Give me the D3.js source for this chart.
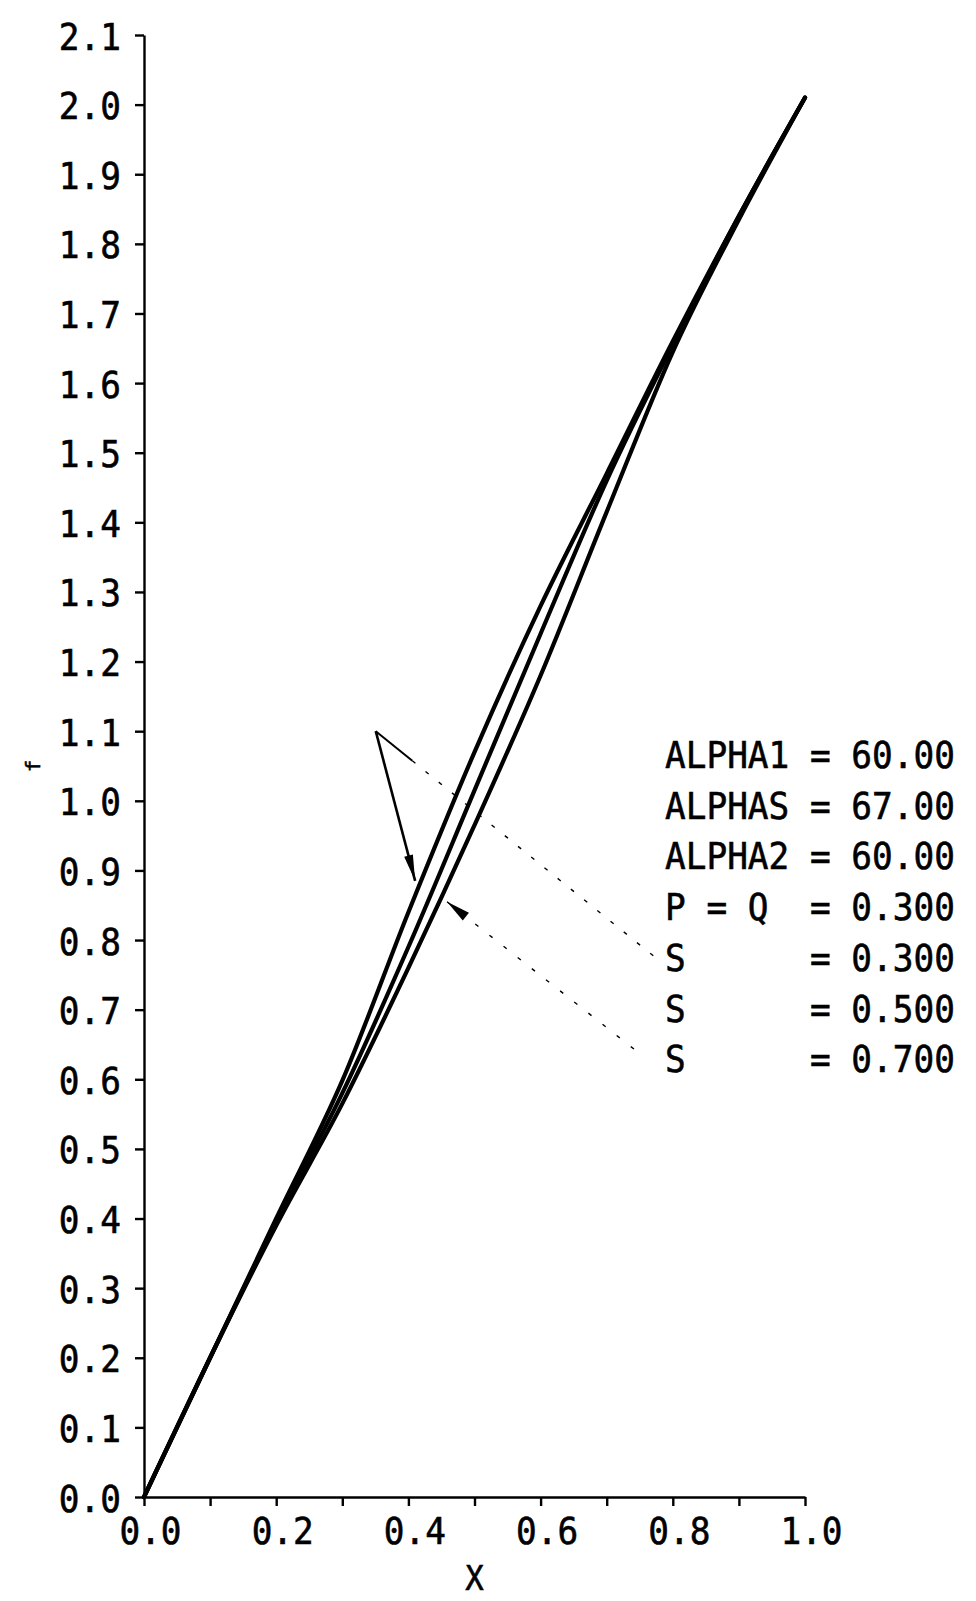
<!DOCTYPE html>
<html>
<head>
<meta charset="utf-8">
<script src="https://cdn.jsdelivr.net/npm/d3@7"></script>
<style>
  html, body { margin: 0; padding: 0; background: #fff; }
  svg { display: block; }
  text { font-family: "DejaVu Sans Mono", "Liberation Mono", monospace; fill: #000; stroke: #000; stroke-width: 0.6px; }
</style>
</head>
<body>
<svg id="chart" width="976" height="1601"></svg>
<script>
// ---------------- data ----------------
const xValues = [0, 0.1, 0.2, 0.3, 0.4, 0.5, 0.6, 0.7, 0.8, 0.9, 1.0];
const fS03 = [0, 0.200, 0.400, 0.598, 0.840, 1.070, 1.280, 1.470, 1.660, 1.840, 2.010];
const fS05 = [0, 0.200, 0.395, 0.580, 0.790, 1.015, 1.240, 1.460, 1.655, 1.840, 2.010];
const fS07 = [0, 0.200, 0.390, 0.565, 0.760, 0.965, 1.180, 1.415, 1.645, 1.835, 2.010];
const seriesNames = ["S = 0.300", "S = 0.500", "S = 0.700"];

const xTickValues = [0, 0.1, 0.2, 0.3, 0.4, 0.5, 0.6, 0.7, 0.8, 0.9, 1.0];
const xTickLabels = ["0.0", "", "0.2", "", "0.4", "", "0.6", "", "0.8", "", "1.0"];
const yTickValues = [0, 0.1, 0.2, 0.3, 0.4, 0.5, 0.6, 0.7, 0.8, 0.9, 1.0,
                     1.1, 1.2, 1.3, 1.4, 1.5, 1.6, 1.7, 1.8, 1.9, 2.0, 2.1];
const yTickLabels = ["0.0", "0.1", "0.2", "0.3", "0.4", "0.5", "0.6", "0.7", "0.8", "0.9", "1.0",
                     "1.1", "1.2", "1.3", "1.4", "1.5", "1.6", "1.7", "1.8", "1.9", "2.0", "2.1"];

const legendNames  = ["ALPHA1", "ALPHAS", "ALPHA2", "P = Q", "S", "S", "S"];
const legendValues = ["60.00", "67.00", "60.00", "0.300", "0.300", "0.500", "0.700"];

const xLabel = "X";
const yLabel = "f";

// arrow / leader anchor points in data units
const arrowApex = [0.3506, 1.10];      // apex of the V-shaped pointer
const arrowTipS03 = [0.4102, 0.885];   // arrow tip on the S = 0.300 curve
const arrowTipS07 = [0.4584, 0.855];   // arrow tip near the S = 0.700 curve

// ---------------- layout ----------------
const svg = d3.select("#chart");
const x = d3.scaleLinear().domain([0, 1.0]).range([144, 805]);
const y = d3.scaleLinear().domain([0, 2.1]).range([1497, 35]);
const SX = 0.93;           // horizontal squeeze of the plotter-like font
const FS = 37;

// ---------------- axes ----------------
const yAxis = d3.axisLeft(y)
  .tickValues(yTickValues)
  .tickFormat((d, i) => yTickLabels[i])
  .tickSize(9).tickSizeOuter(0);
const gy = svg.append("g").attr("transform", `translate(${x(0)},0)`).call(yAxis);
gy.select(".domain").attr("stroke", "#000").attr("stroke-width", 2.4);
gy.selectAll(".tick line").attr("stroke", "#000").attr("stroke-width", 2.4);
gy.selectAll(".tick text")
  .attr("font-size", FS).attr("font-family", "DejaVu Sans Mono")
  .attr("x", -23 / SX).attr("dy", 0).attr("y", 14)
  .attr("transform", `scale(${SX},1)`)
  .attr("text-anchor", "end");

const xAxis = d3.axisBottom(x)
  .tickValues(xTickValues)
  .tickFormat((d, i) => xTickLabels[i])
  .tickSize(9).tickSizeOuter(0);
const gx = svg.append("g").attr("transform", `translate(0,${y(0)})`).call(xAxis);
gx.select(".domain").attr("stroke", "#000").attr("stroke-width", 2.4);
gx.selectAll(".tick line").attr("stroke", "#000").attr("stroke-width", 2.4);
gx.selectAll(".tick text")
  .attr("font-size", FS).attr("font-family", "DejaVu Sans Mono")
  .attr("x", 6 / SX).attr("dy", 0).attr("y", 47)
  .attr("transform", `scale(${SX},1)`)
  .attr("text-anchor", "middle");

// axis titles
svg.append("text")
  .attr("transform", `translate(${x(0.5)},1590) scale(${SX},1)`)
  .attr("text-anchor", "middle").attr("font-size", 33).text(xLabel);
svg.append("text")
  .attr("transform", `translate(40,766) rotate(-90)`)
  .attr("text-anchor", "middle").attr("font-size", 20).text(yLabel);

// ---------------- curves ----------------
const line = d3.line()
  .x(d => x(d[0])).y(d => y(d[1]))
  .curve(d3.curveMonotoneX);
[fS03, fS05, fS07].forEach((vals, k) => {
  svg.append("path")
    .datum(xValues.map((xv, i) => [xv, vals[i]]))
    .attr("class", "series")
    .attr("data-name", seriesNames[k])
    .attr("fill", "none").attr("stroke", "#000")
    .attr("stroke-width", 4.2).attr("stroke-linejoin", "round").attr("stroke-linecap", "round")
    .attr("d", line);
});

// ---------------- legend ----------------
const legX = 665, adv = 20.7, row0 = 768, rowH = 50.7;
const leg = svg.append("g");
legendNames.forEach((nm, i) => {
  const yy = row0 + i * rowH;
  leg.append("text").attr("transform", `translate(${legX},${yy}) scale(${SX},1)`)
    .attr("font-size", FS).text(nm);
  leg.append("text").attr("transform", `translate(${legX + 7 * adv},${yy}) scale(${SX},1)`)
    .attr("font-size", FS).text("=");
  leg.append("text").attr("transform", `translate(${legX + 9 * adv},${yy}) scale(${SX},1)`)
    .attr("font-size", FS).text(legendValues[i]);
});

// ---------------- pointers ----------------
function arrowHead(tip, from, len, wid) {
  const tx = x(tip[0]), ty = y(tip[1]);
  const fx = from[0], fy = from[1];
  const dx = tx - fx, dy = ty - fy, L = Math.hypot(dx, dy);
  const ux = dx / L, uy = dy / L;
  const bx = tx - ux * len, by = ty - uy * len;
  const px = -uy * wid / 2, py = ux * wid / 2;
  svg.append("path")
    .attr("d", `M${tx},${ty}L${bx + px},${by + py}L${bx - px},${by - py}Z`)
    .attr("fill", "#000");
}
// V pointer for S = 0.300
const ax = x(arrowApex[0]), ay = y(arrowApex[1]);
svg.append("line")
  .attr("x1", ax).attr("y1", ay).attr("x2", x(arrowTipS03[0])).attr("y2", y(arrowTipS03[1]))
  .attr("stroke", "#000").attr("stroke-width", 2.6);
arrowHead(arrowTipS03, [ax, ay], 26, 9);

// leader from apex to legend row "S = 0.300"
const lead1End = [legX - 8, row0 + 4 * rowH - 12];
const dirx = lead1End[0] - ax, diry = lead1End[1] - ay;
svg.append("line")
  .attr("x1", ax).attr("y1", ay).attr("x2", ax + dirx * 0.13).attr("y2", ay + diry * 0.13)
  .attr("stroke", "#000").attr("stroke-width", 2);
svg.append("line")
  .attr("x1", ax + dirx * 0.13).attr("y1", ay + diry * 0.13).attr("x2", lead1End[0]).attr("y2", lead1End[1])
  .attr("stroke", "#000").attr("stroke-width", 1.4).attr("stroke-dasharray", "4,13");

// leader + arrow for S = 0.700
const lead2End = [legX - 22, row0 + 6 * rowH - 16];
arrowHead(arrowTipS07, lead2End, 24, 10);
svg.append("line")
  .attr("x1", x(arrowTipS07[0])).attr("y1", y(arrowTipS07[1]))
  .attr("x2", lead2End[0]).attr("y2", lead2End[1])
  .attr("stroke", "#000").attr("stroke-width", 1.4).attr("stroke-dasharray", "4,14");
</script>
</body>
</html>
